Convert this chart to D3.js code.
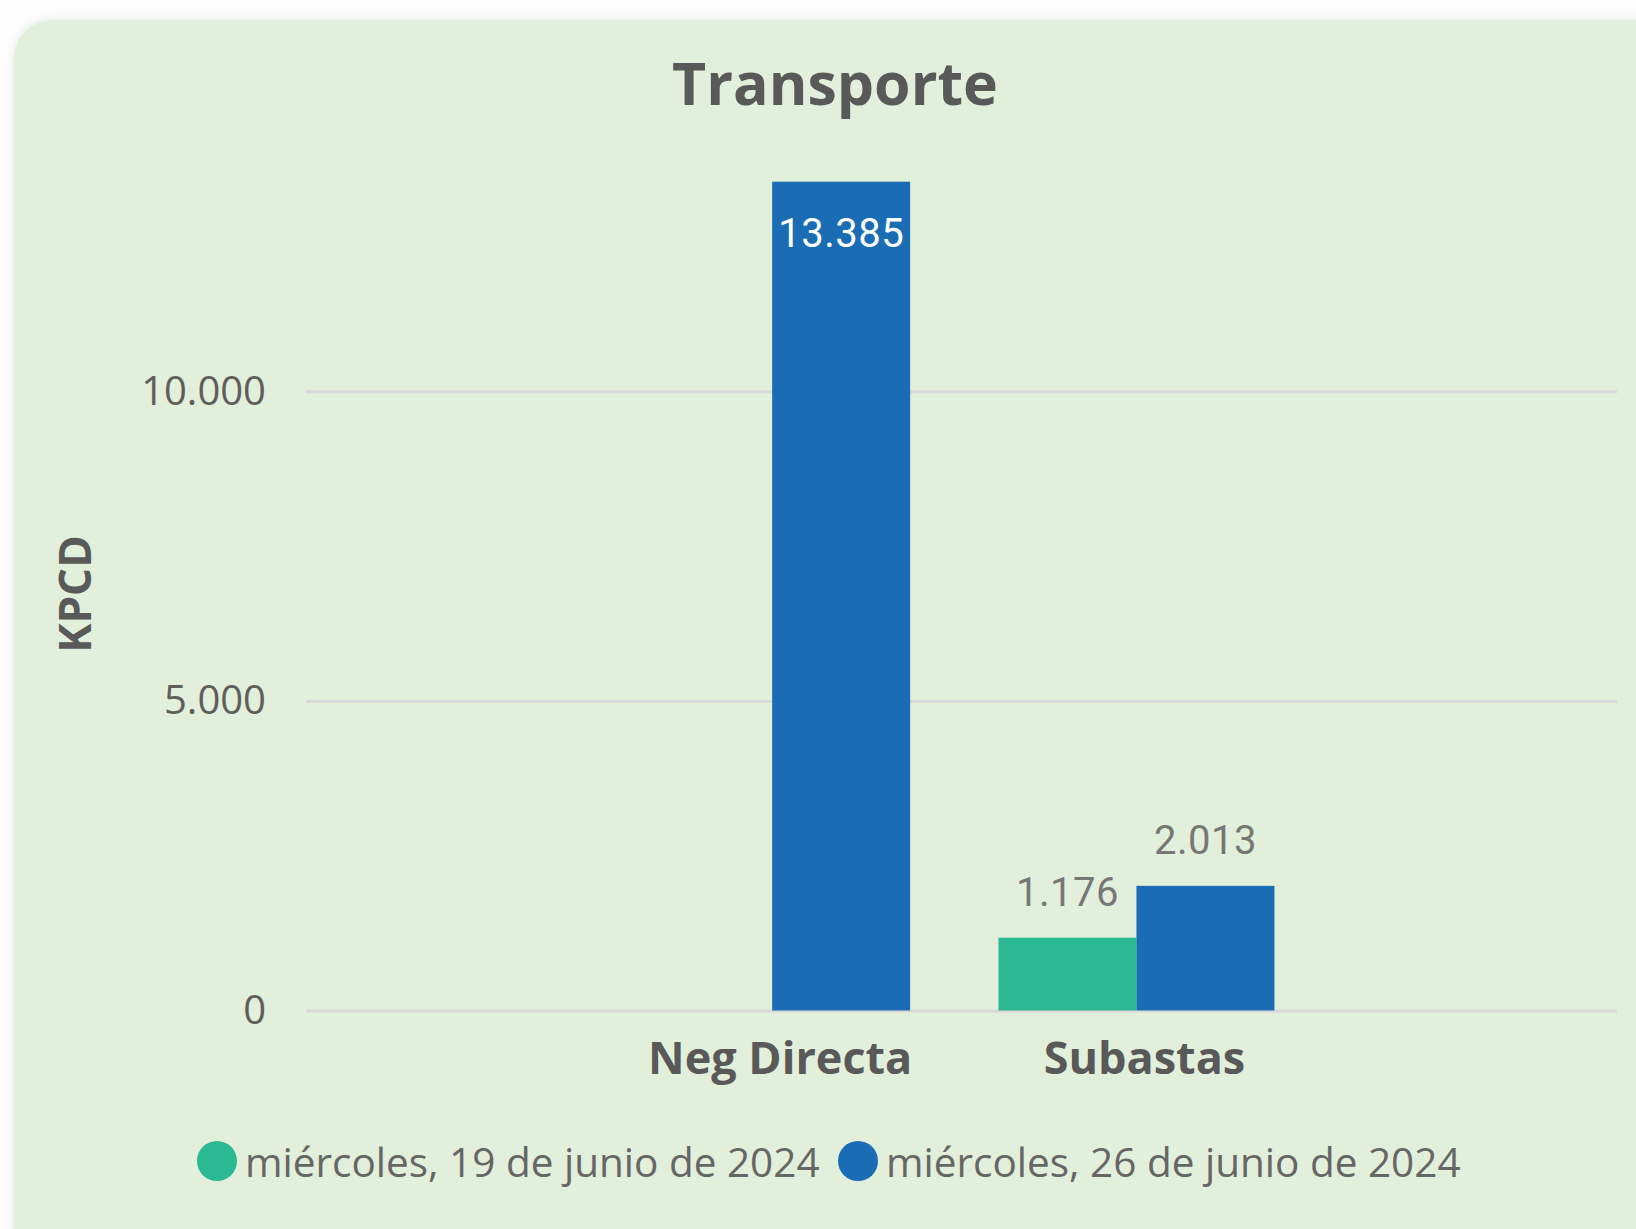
<!DOCTYPE html>
<html>
<head>
<meta charset="utf-8">
<script src="https://cdn.jsdelivr.net/npm/d3@7"></script>
<style>
  html, body { margin: 0; padding: 0; background: #fdfdfd; }
  svg { display: block; }
</style>
</head>
<body>
<svg id="chart" width="1636" height="1229"></svg>
<script>
// ---- data ----
const categories = ["Neg Directa", "Subastas"];
const seriesNames = ["miércoles, 19 de junio de 2024", "miércoles, 26 de junio de 2024"];
const series19Jun = [null, 1176];
const series26Jun = [13385, 2013];
const yTickValues = [0, 5000, 10000];
const seriesColors = ["#2bb994", "#1a6cb4"];

const title = "Transporte";
const yAxisTitle = "KPCD";

// ---- setup ----
const svg = d3.select("#chart");
const W = 1636, H = 1229;

const defs = svg.append("defs");
const f = defs.append("filter").attr("id", "shadow").attr("x", "-5%").attr("y", "-5%").attr("width", "110%").attr("height", "110%");
f.append("feGaussianBlur").attr("in", "SourceAlpha").attr("stdDeviation", 4);
f.append("feOffset").attr("dx", 0).attr("dy", 0).attr("result", "blur");
f.append("feFlood").attr("flood-color", "#000").attr("flood-opacity", 0.10);
f.append("feComposite").attr("in2", "blur").attr("operator", "in");
const fm = f.append("feMerge");
fm.append("feMergeNode");
fm.append("feMergeNode").attr("in", "SourceGraphic");

svg.append("rect").attr("width", W).attr("height", H).attr("fill", "#fdfdfd");
svg.append("rect")
  .attr("x", 14).attr("y", 20)
  .attr("width", 1680).attr("height", 1280)
  .attr("rx", 38).attr("ry", 38)
  .attr("fill", "#e2efda")
  .attr("filter", "url(#shadow)");

const locale = d3.formatLocale({ decimal: ",", thousands: ".", grouping: [3], currency: ["", ""] });
const fmt = locale.format(",d");

const plotLeft = 306, plotRight = 1617;

const y = d3.scaleLinear().domain([0, 10000]).range([1010.5, 391.3]);

const x0 = d3.scaleBand().domain(categories).range([590, 1318.6]).paddingInner(0.2424).paddingOuter(0.1212);
const x1 = d3.scaleBand().domain(seriesNames).range([0, x0.bandwidth()]);

// ---- gridlines + y tick labels ----
const yAxis = d3.axisLeft(y)
  .tickValues(yTickValues)
  .tickFormat(fmt)
  .tickSize(-(plotRight - plotLeft))
  .tickPadding(40);

const gy = svg.append("g").attr("transform", `translate(${plotLeft},0)`).call(yAxis);
gy.select(".domain").remove();
gy.selectAll(".tick line").attr("stroke", "#d9d9d9").attr("stroke-width", 3);
gy.selectAll(".tick text")
  .attr("font-family", "'Open Sans', sans-serif")
  .attr("font-size", 40)
  .attr("fill", "#605e5c");

// ---- bars ----
const rows = categories.map((c, i) => ({
  cat: c,
  vals: [
    { s: seriesNames[0], v: series19Jun[i], color: seriesColors[0] },
    { s: seriesNames[1], v: series26Jun[i], color: seriesColors[1] }
  ]
}));

const gBars = svg.append("g");
const grp = gBars.selectAll("g.cat").data(rows).join("g")
  .attr("class", "cat")
  .attr("transform", d => `translate(${x0(d.cat)},0)`);

grp.selectAll("rect").data(d => d.vals.filter(v => v.v != null)).join("rect")
  .attr("x", d => x1(d.s))
  .attr("width", x1.bandwidth())
  .attr("y", d => y(d.v))
  .attr("height", d => y(0) - y(d.v))
  .attr("fill", d => d.color);

// data labels
grp.selectAll("text").data(d => d.vals.filter(v => v.v != null)).join("text")
  .attr("x", d => x1(d.s) + x1.bandwidth() / 2)
  .attr("y", d => d.v > 10000 ? y(d.v) + 65 : y(d.v) - 32)
  .attr("text-anchor", "middle")
  .attr("font-family", "Roboto, sans-serif")
  .attr("font-size", 40)
  .attr("letter-spacing", 0.5)
  .attr("fill", d => d.v > 10000 ? "#ffffff" : "#777777")
  .text(d => fmt(d.v));

// ---- x axis labels ----
const xAxis = d3.axisBottom(x0).tickSize(0).tickPadding(0);
const gx = svg.append("g").attr("transform", `translate(0,${y(0)})`).call(xAxis);
gx.select(".domain").remove();
gx.selectAll(".tick text")
  .attr("x", 8)
  .attr("y", 63)
  .attr("dy", null)
  .attr("font-family", "'Open Sans', sans-serif")
  .attr("font-weight", 700)
  .attr("font-size", 45)
  .attr("fill", "#595959");

// ---- title ----
svg.append("text")
  .attr("x", 835).attr("y", 105)
  .attr("text-anchor", "middle")
  .attr("font-family", "'Open Sans', sans-serif")
  .attr("font-weight", 700)
  .attr("font-size", 59)
  .attr("fill", "#595959")
  .text(title);

// ---- y axis title ----
svg.append("text")
  .attr("transform", "translate(91,594) rotate(-90)")
  .attr("text-anchor", "middle")
  .attr("font-family", "'Open Sans', sans-serif")
  .attr("font-weight", 700)
  .attr("font-size", 44)
  .attr("fill", "#595959")
  .text(yAxisTitle);

// ---- legend ----
const legendX = [217, 858];
const lg = svg.append("g").selectAll("g").data(seriesNames).join("g")
  .attr("transform", (d, i) => `translate(${legendX[i]},1161)`);
lg.append("circle").attr("r", 20).attr("fill", (d, i) => seriesColors[i]);
lg.append("text")
  .attr("x", 28).attr("y", 16)
  .attr("font-family", "'Open Sans', sans-serif")
  .attr("font-size", 40.5)
  .attr("fill", "#666666")
  .text(d => d);
</script>
</body>
</html>
